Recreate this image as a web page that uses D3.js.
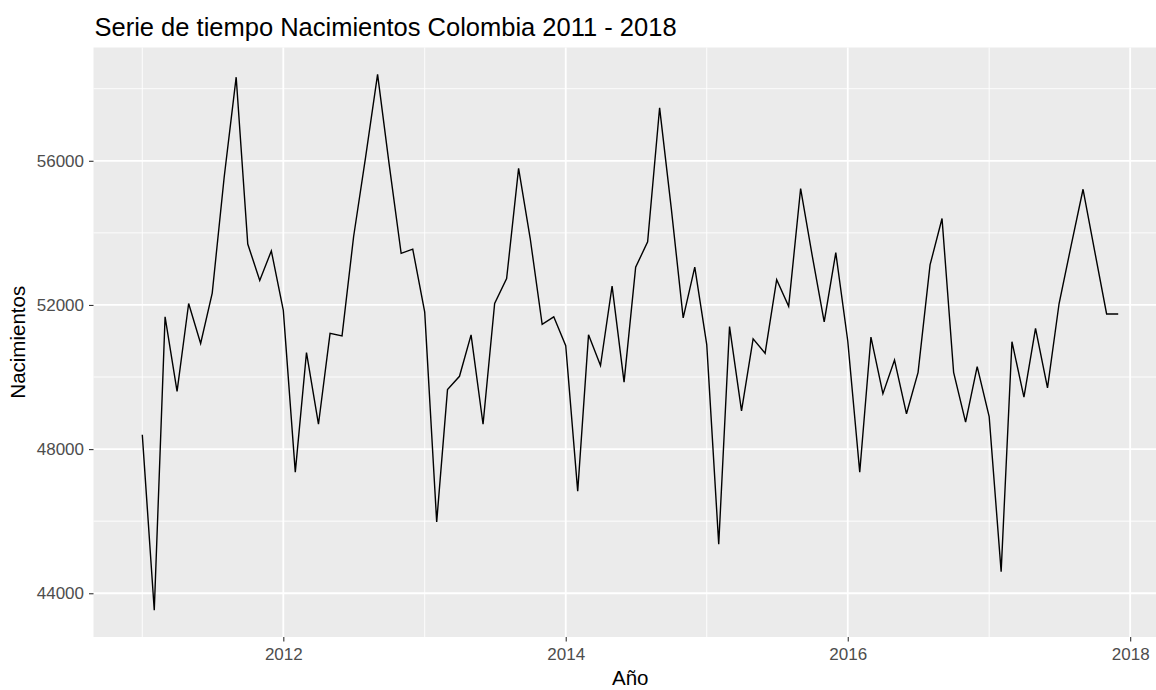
<!DOCTYPE html>
<html lang="es">
  <head>
    <meta charset="utf-8">
    <title>Serie de tiempo Nacimientos Colombia 2011 - 2018</title>
    <script src="https://d3js.org/d3.v7.min.js"></script>
    <style type="text/css">
      body, html {
        margin: 0;
        padding: 0;
        background: #fff;
        font-family: "Liberation Sans", Arial, sans-serif;
      }
      svg { display: block; }
      .tick-label { fill: #4d4d4d; font-size: 17px; }
      .axis-title { fill: #000; font-size: 20.5px; }
      .plot-title { fill: #000; font-size: 25.5px; }
    </style>
  </head>
  <body>
    <script type="text/javascript">

      var w = 1156;
      var h = 690;

      // panel edges (the right side of the panel runs past the picture edge)
      var margin = { top: 47.5, bottom: 53, left: 93.5, right: -11 };
      var width = w - margin.left - margin.right;
      var height = h - margin.top - margin.bottom;

      // monthly births, Jan..Dec
      var births2011 = [48400, 43530, 51670, 49600, 52040, 50930, 52330, 55550, 58320, 53690, 52680, 53500];
      var births2012 = [51850, 47360, 50680, 48690, 51210, 51140, 53900, 56100, 58400, 55900, 53430, 53550];
      var births2013 = [51800, 45980, 49650, 50020, 51170, 48690, 52040, 52730, 55790, 53850, 51460, 51670];
      var births2014 = [50870, 46830, 51170, 50320, 52520, 49860, 53050, 53750, 57470, 54700, 51640, 53050];
      var births2015 = [50900, 45360, 51400, 49060, 51060, 50660, 52700, 51960, 55230, 53370, 51530, 53450];
      var births2016 = [51000, 47360, 51110, 49540, 50470, 48980, 50130, 53110, 54400, 50130, 48750, 50290];
      var births2017 = [48900, 44600, 50980, 49440, 51350, 49700, 52040, 53640, 55210, 53500, 51750, 51750];

      var years = [2011, 2012, 2013, 2014, 2015, 2016, 2017];
      var yearBirths = [births2011, births2012, births2013, births2014, births2015, births2016, births2017];

      var majorYears = [2012, 2014, 2016, 2018];
      var minorYears = [2011, 2013, 2015, 2017];
      var yTicks = [44000, 48000, 52000, 56000];
      var yMinor = [46000, 50000, 54000, 58000];

      var data = [];
      years.forEach(function(yr, i) {
        yearBirths[i].forEach(function(v, m) {
          data.push({ date: new Date(yr, m, 1), value: v });
        });
      });

      // ggplot style 5% expansion
      var xExt = d3.extent(data, function(d) { return d.date; });
      var xPad = (xExt[1] - xExt[0]) * 0.05;
      var yExt = d3.extent(data, function(d) { return d.value; });
      var yPad = (yExt[1] - yExt[0]) * 0.05;

      var x = d3.scaleTime()
        .domain([new Date(+xExt[0] - xPad), new Date(+xExt[1] + xPad)])
        .range([0, width]);

      var y = d3.scaleLinear()
        .domain([yExt[0] - yPad, yExt[1] + yPad])
        .range([height, 0]);

      var yearDate = function(yr) { return new Date(yr, 0, 1); };

      var svg = d3.select("body")
        .append("svg")
        .attr("width", w)
        .attr("height", h);

      svg.append("text")
        .attr("class", "plot-title")
        .attr("x", margin.left + 1)
        .attr("y", 36)
        .text("Serie de tiempo Nacimientos Colombia 2011 - 2018");

      var g = svg.append("g")
        .attr("transform", "translate(" + margin.left + "," + margin.top + ")");

      g.append("rect")
        .attr("width", width)
        .attr("height", height)
        .attr("fill", "#ebebeb");

      // minor grid
      g.selectAll(".ygrid-minor")
        .data(yMinor)
        .enter().append("line")
        .attr("x1", 0).attr("x2", width)
        .attr("y1", function(d) { return y(d); })
        .attr("y2", function(d) { return y(d); })
        .attr("stroke", "#fff").attr("stroke-width", 0.9);

      g.selectAll(".xgrid-minor")
        .data(minorYears)
        .enter().append("line")
        .attr("y1", 0).attr("y2", height)
        .attr("x1", function(d) { return x(yearDate(d)); })
        .attr("x2", function(d) { return x(yearDate(d)); })
        .attr("stroke", "#fff").attr("stroke-width", 0.9);

      // major grid
      g.selectAll(".ygrid")
        .data(yTicks)
        .enter().append("line")
        .attr("x1", 0).attr("x2", width)
        .attr("y1", function(d) { return y(d); })
        .attr("y2", function(d) { return y(d); })
        .attr("stroke", "#fff").attr("stroke-width", 1.8);

      g.selectAll(".xgrid")
        .data(majorYears)
        .enter().append("line")
        .attr("y1", 0).attr("y2", height)
        .attr("x1", function(d) { return x(yearDate(d)); })
        .attr("x2", function(d) { return x(yearDate(d)); })
        .attr("stroke", "#fff").attr("stroke-width", 1.8);

      // the series
      var line = d3.line()
        .x(function(d) { return x(d.date); })
        .y(function(d) { return y(d.value); });

      g.append("path")
        .datum(data)
        .attr("d", line)
        .attr("fill", "none")
        .attr("stroke", "#000")
        .attr("stroke-width", 1.4)
        .attr("stroke-linejoin", "miter");

      // axes
      var yAxis = d3.axisLeft(y)
        .tickValues(yTicks)
        .tickSize(4.5)
        .tickPadding(5)
        .tickFormat(d3.format("d"));

      var xAxis = d3.axisBottom(x)
        .tickValues(majorYears.map(yearDate))
        .tickSize(4.5)
        .tickPadding(6)
        .tickFormat(d3.timeFormat("%Y"));

      var yg = g.append("g").call(yAxis);
      var xg = g.append("g").attr("transform", "translate(0," + height + ")").call(xAxis);

      [yg, xg].forEach(function(a) {
        a.select(".domain").remove();
        a.selectAll(".tick line").attr("stroke", "#333").attr("stroke-width", 1.1);
        a.selectAll(".tick text")
          .attr("class", "tick-label")
          .attr("font-family", null)
          .attr("font-size", null);
        a.attr("font-family", null).attr("font-size", null);
      });

      svg.append("text")
        .attr("class", "axis-title")
        .attr("text-anchor", "middle")
        .attr("x", margin.left + width / 2)
        .attr("y", 685)
        .text("Año");

      svg.append("text")
        .attr("class", "axis-title")
        .attr("text-anchor", "middle")
        .attr("transform", "translate(25," + (margin.top + height / 2) + ") rotate(-90)")
        .text("Nacimientos");

    </script>
  </body>
</html>
